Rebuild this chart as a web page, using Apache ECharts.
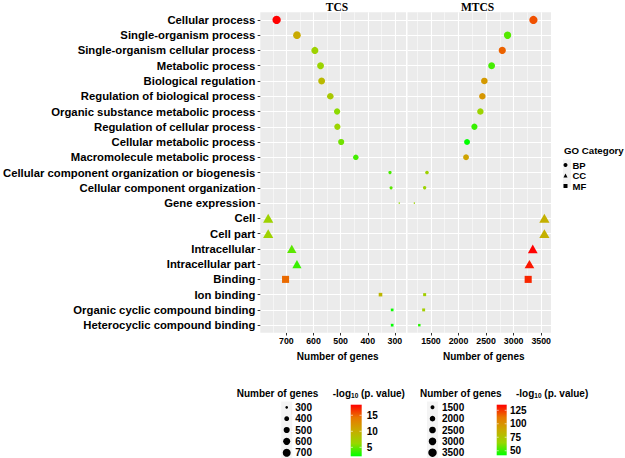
<!DOCTYPE html>
<html><head><meta charset="utf-8">
<script src="https://cdn.jsdelivr.net/npm/echarts@6/dist/echarts.min.js"></script>
<style>html,body{margin:0;padding:0;background:#fff}#chart{width:625px;height:458px}</style>
</head><body><div id="chart"></div>
<script>
// ---------------- data ----------------
const categories = [
  'Cellular process','Single-organism process','Single-organism cellular process','Metabolic process',
  'Biological regulation','Regulation of biological process','Organic substance metabolic process',
  'Regulation of cellular process','Cellular metabolic process','Macromolecule metabolic process',
  'Cellular component organization or biogenesis','Cellular component organization','Gene expression',
  'Cell','Cell part','Intracellular','Intracellular part','Binding','Ion binding',
  'Organic cyclic compound binding','Heterocyclic compound binding'
];
const goCategory = ['BP','BP','BP','BP','BP','BP','BP','BP','BP','BP','BP','BP','BP','CC','CC','CC','CC','MF','MF','MF','MF'];
const goLevels = ['BP','CC','MF'];

const tcsGenes = [736, 661, 595, 574, 570, 538, 513, 512, 498, 444, 318, 314, 284, 767, 767, 680, 661, 703, 353, 310, 310];
const tcsLogP  = [18.3, 10.3, 6.7, 6.5, 9.0, 7.6, 5.9, 6.5, 5.2, 4.0, 4.1, 4.6, 6.0, 6.7, 6.7, 4.6, 3.7, 14.7, 9.2, 2.5, 2.2];
const mtcsGenes = [3359, 2890, 2794, 2601, 2469, 2433, 2397, 2289, 2155, 2137, 1428, 1386, 1199, 3558, 3558, 3347, 3287, 3264, 1386, 1368, 1289];
const mtcsLogP  = [119.7, 54.7, 116, 52, 96.5, 98, 67, 50, 41.5, 92, 68, 67, 67, 86, 86, 135.4, 131, 128, 70, 70, 47];

const tcsXTicks = [300, 400, 500, 600, 700];
const tcsXMinor = [350, 450, 550, 650, 750];
const mtcsXTicks = [1500, 2000, 2500, 3000, 3500];
const mtcsXMinor = [1250, 1750, 2250, 2750, 3250];
const tcsSizeBreaks = [300, 400, 500, 600, 700];
const mtcsSizeBreaks = [1500, 2000, 2500, 3000, 3500];
const tcsColorBreaks = [5, 10, 15];
const mtcsColorBreaks = [50, 75, 100, 125];
const panelTitles = ['TCS', 'MTCS'];

// ---------------- style ----------------
const FONT = '"Liberation Sans", Arial, sans-serif';
const STOPS = ['#00ff00', '#98d700', '#c9ab00', '#e87700', '#ff0000'];
const DMAX = 8.5;
const SHAPE = { BP: {symbol: 'circle', w: 1, h: 1}, CC: {symbol: 'triangle', w: 1.2, h: 1.05}, MF: {symbol: 'rect', w: 0.88, h: 0.88} };

function sizeOf(v, genes) {
  const lo = Math.min(...genes), hi = Math.max(...genes);
  const t = Math.max(0, (v - lo) / (hi - lo));
  return DMAX * (1 + 5 * Math.sqrt(t)) / 6;
}

const panels = [
  {genes: tcsGenes, logP: tcsLogP, grid: {left: 260, top: 12.3, width: 146, height: 320.5}, xMin: 259, xMax: 796, inverse: true, ticks: tcsXTicks, minor: tcsXMinor},
  {genes: mtcsGenes, logP: mtcsLogP, grid: {left: 407.5, top: 12.3, width: 143.5, height: 320.5}, xMin: 1075, xMax: 3678, inverse: false, ticks: mtcsXTicks, minor: mtcsXMinor}
];

const series = [];
panels.forEach((p, pi) => {
  series.push({
    type: 'scatter', name: 'grid' + pi, xAxisIndex: pi, yAxisIndex: pi, data: [], silent: true,
    markLine: {
      silent: true, symbol: ['none', 'none'], z: 1, animation: false, label: {show: false},
      emphasis: {disabled: true},
      data: [
        ...p.ticks.map(v => ({xAxis: v, lineStyle: {color: '#fff', width: 1.1, type: 'solid'}})),
        ...p.minor.map(v => ({xAxis: v, lineStyle: {color: '#fff', width: 0.5, type: 'solid'}}))
      ]
    }
  });
});
panels.forEach((p, pi) => {
  goLevels.forEach(g => {
    const sh = SHAPE[g];
    series.push({
      type: 'scatter', name: g, xAxisIndex: pi, yAxisIndex: pi, symbol: sh.symbol, z: 3,
      symbolSize: (val) => { const d = sizeOf(val[0], p.genes); return [d * sh.w, d * sh.h]; },
      itemStyle: {opacity: 1}, emphasis: {disabled: true},
      data: categories.map((c, i) => goCategory[i] === g ? [p.genes[i], c, p.logP[i]] : null).filter(Boolean)
    });
  });
});

// ---------------- legends (graphic) ----------------
const graphic = [];
function txt(x, y, text, size, opts) {
  graphic.push(Object.assign({type: 'text', x: x, y: y, silent: true,
    style: Object.assign({text: text, fill: '#000', font: 'bold ' + size + 'px ' + FONT, align: 'left', verticalAlign: 'middle'}, (opts || {}).style || {})}, (opts || {}).el || {}));
}
panelTitles.forEach((t, i) => {
  txt([337, 477.5][i], 7, t, 11.5, {style: {align: 'center', font: 'bold 11.5px "Liberation Serif", "Times New Roman", serif'}});
});
// GO category legend
txt(564, 150.7, 'GO Category', 9.7);
graphic.push({type: 'rect', silent: true, z: -1, shape: {x: 563, y: 159.5, width: 8, height: 27.5}, style: {fill: '#f2f2f2'}});

function sizeLegend(titleX, dotX, labelX, breaks, genes) {
  txt(titleX, 393.7, 'Number of genes', 10);
  graphic.push({type: 'rect', silent: true, z: -1, shape: {x: dotX - 5.5, y: 401.5, width: 11, height: 57}, style: {fill: '#f4f4f4'}});
  breaks.forEach((b, i) => {
    const y = 407.3 + i * 11.35;
    graphic.push({type: 'circle', silent: true, shape: {cx: dotX, cy: y, r: sizeOf(b, genes) / 2}, style: {fill: '#000'}});
    txt(labelX, y, String(b), 10);
  });
}
function colorLegend(titleX, barX, barW, barTop, barH, labelX, breaks, logP) {
  txt(titleX, 393.7, '-log{s|10} (p. value)', 10, {style: {rich: {s: {font: 'bold 6.5px ' + FONT, fill: '#000', verticalAlign: 'bottom', padding: [3, 0, 0, 0]}}}});
  const lo = Math.min(...logP), hi = Math.max(...logP);
  graphic.push({type: 'rect', silent: true, shape: {x: barX, y: barTop, width: barW, height: barH},
    style: {fill: new echarts.graphic.LinearGradient(0, 0, 0, 1, STOPS.slice().reverse().map((c, i) => ({offset: i / (STOPS.length - 1), color: c})))}});
  breaks.forEach(b => {
    const y = barTop + barH - (b - lo) / (hi - lo) * barH;
    txt(labelX, y, String(b), 10);
    graphic.push({type: 'line', silent: true, shape: {x1: barX, y1: y, x2: barX + barW * 0.2, y2: y}, style: {stroke: '#fff', lineWidth: 0.6}});
    graphic.push({type: 'line', silent: true, shape: {x1: barX + barW * 0.8, y1: y, x2: barX + barW, y2: y}, style: {stroke: '#fff', lineWidth: 0.6}});
  });
}
sizeLegend(236.7, 286.7, 295.3, tcsSizeBreaks, tcsGenes);
colorLegend(332.7, 350.7, 11, 404.7, 51.6, 366.7, tcsColorBreaks, tcsLogP);
sizeLegend(420, 432.5, 442, mtcsSizeBreaks, mtcsGenes);
colorLegend(516, 496.7, 10, 404.7, 50.6, 510, mtcsColorBreaks, mtcsLogP);

// ---------------- chart ----------------
const chart = echarts.init(document.getElementById('chart'), null, {renderer: 'svg'});
chart.setOption({
  animation: false,
  backgroundColor: '#ffffff',
  grid: panels.map(p => Object.assign({show: true, backgroundColor: '#ebebeb', borderWidth: 0, containLabel: false}, p.grid)),
  xAxis: panels.map((p, pi) => ({
    type: 'value', gridIndex: pi, min: p.xMin, max: p.xMax, inverse: p.inverse,
    splitLine: {show: false}, axisLine: {show: false},
    axisTick: {show: true, customValues: p.ticks, length: 2.7, lineStyle: {color: '#333', width: 1}},
    axisLabel: {customValues: p.ticks, formatter: (v) => String(v), color: '#000', fontWeight: 'bold', fontSize: 8.8, fontFamily: FONT, margin: 4},
    name: 'Number of genes', nameLocation: 'middle', nameGap: 19,
    nameTextStyle: {color: '#000', fontWeight: 'bold', fontSize: 10, fontFamily: FONT, padding: [0, 0, 0, 9]}
  })),
  yAxis: panels.map((p, pi) => ({
    type: 'category', gridIndex: pi, data: categories, inverse: true, boundaryGap: true,
    axisLine: {show: false},
    axisTick: {show: pi === 0, length: 2.7, alignWithLabel: true, lineStyle: {color: '#333', width: 1}},
    axisLabel: {show: pi === 0, interval: 0, color: '#000', fontWeight: 'bold', fontSize: 11.3, fontFamily: FONT, margin: 5},
    splitLine: {show: true, alignWithLabel: true, interval: 0, lineStyle: {color: '#fff', width: 1.1}}
  })),
  visualMap: [
    {type: 'continuous', show: false, seriesIndex: [2, 3, 4], dimension: 2, min: Math.min(...tcsLogP), max: Math.max(...tcsLogP), inRange: {color: STOPS}},
    {type: 'continuous', show: false, seriesIndex: [5, 6, 7], dimension: 2, min: Math.min(...mtcsLogP), max: Math.max(...mtcsLogP), inRange: {color: STOPS}}
  ],
  legend: {
    data: goLevels, orient: 'vertical', left: 563.5, top: 160, padding: 0, itemGap: 0.5,
    itemWidth: 4, itemHeight: 4, selectedMode: false,
    itemStyle: {color: '#000', borderWidth: 0},
    textStyle: {color: '#000', fontWeight: 'bold', fontSize: 9.5, fontFamily: FONT, lineHeight: 9}
  },
  graphic: graphic,
  series: series
});
</script></body></html>
